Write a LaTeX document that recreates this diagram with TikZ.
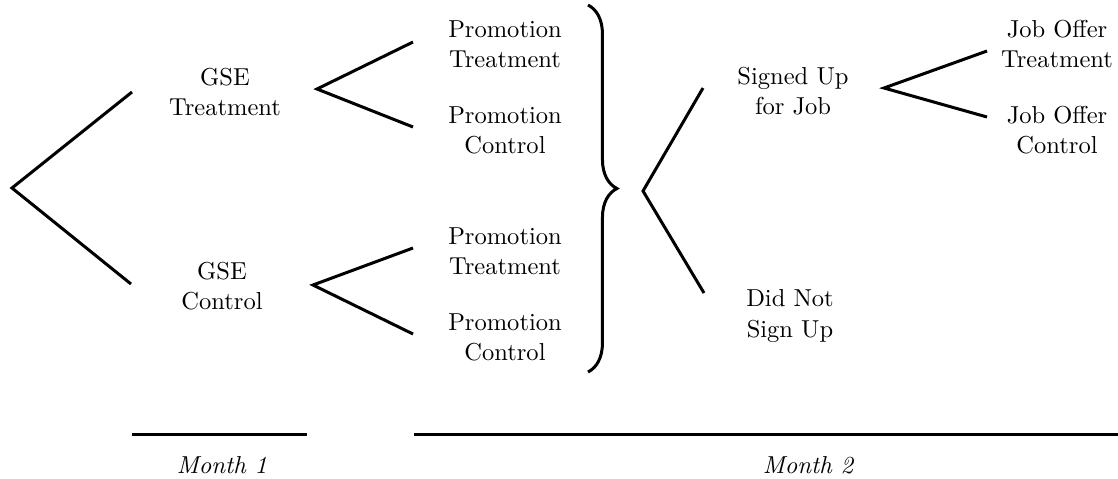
\documentclass[tikz,border=0pt]{standalone}
\usepackage{amsmath}
\usepackage{tikz}
\usetikzlibrary{positioning}
\usetikzlibrary{decorations.pathreplacing}
\tikzset{branch/.style = {line width=1.3pt}}
\tikzset{leaf/.style = {align=center, inner sep=0, font=\fontsize{10.6}{13}\selectfont}}
\tikzset{period/.style = {inner sep=0, font=\fontsize{10.6}{13}\selectfont\itshape}}

\begin{document}
\begin{tikzpicture}[x=0.0152cm, y=-0.0152cm]
    \useasboundingbox (0, 0) rectangle (1118, 478);
    % month 1
    \node [leaf] (gseT) at (225, 92) {GSE\\Treatment};
    \node [leaf] (gseC) at (222, 286) {GSE\\Control};
    \node [leaf] (promTT) at (505, 44) {Promotion\\Treatment};
    \node [leaf] (promTC) at (505, 130) {Promotion\\Control};
    \node [leaf] (promCT) at (505, 251) {Promotion\\Treatment};
    \node [leaf] (promCC) at (505, 337) {Promotion\\Control};
    % month 2
    \node [leaf] (signed) at (793, 91) {Signed Up\\for Job};
    \node [leaf] (unsigned) at (790, 316) {Did Not\\Sign Up};
    \node [leaf] (jobT) at (1057, 44) {Job Offer\\Treatment};
    \node [leaf] (jobC) at (1057, 130) {Job Offer\\Control};

    \coordinate (root) at (12, 188);
    \coordinate (gseT-in) at (132, 92);
    \coordinate (gseC-in) at (131, 284);
    \coordinate (gseT-out) at (317, 89);
    \coordinate (promTT-in) at (413, 42);
    \coordinate (promTC-in) at (413, 127);
    \coordinate (gseC-out) at (313, 285);
    \coordinate (promCT-in) at (413, 248);
    \coordinate (promCC-in) at (413, 334);
    \coordinate (signup) at (643, 191);
    \coordinate (signed-in) at (703, 88);
    \coordinate (unsigned-in) at (704, 293);
    \coordinate (signed-out) at (884, 88);
    \coordinate (jobT-in) at (987, 51);
    \coordinate (jobC-in) at (987, 117);

    \draw [branch] (gseT-in) -- (root) -- (gseC-in);
    \draw [branch] (promTT-in) -- (gseT-out) -- (promTC-in);
    \draw [branch] (promCT-in) -- (gseC-out) -- (promCC-in);
    \draw [branch, decorate, decoration={brace, amplitude=12.5pt}]
      (588, 5) coordinate (brace-top) -- (588, 372) coordinate (brace-bot);
    \draw [branch] (signed-in) -- (signup) -- (unsigned-in);
    \draw [branch] (jobT-in) -- (signed-out) -- (jobC-in);

    % time line
    \coordinate (m1-start) at (132, 434);
    \coordinate (m1-end) at (307, 434);
    \coordinate (m2-start) at (414, 434);
    \coordinate (m2-end) at (1118, 434);
    \draw [branch] (m1-start) -- (m1-end);
    \draw [branch] (m2-start) -- (m2-end);
    \node [period] (month1) at (222, 465) {Month 1};
    \node [period] (month2) at (808, 465) {Month 2};
\end{tikzpicture}
\end{document}
